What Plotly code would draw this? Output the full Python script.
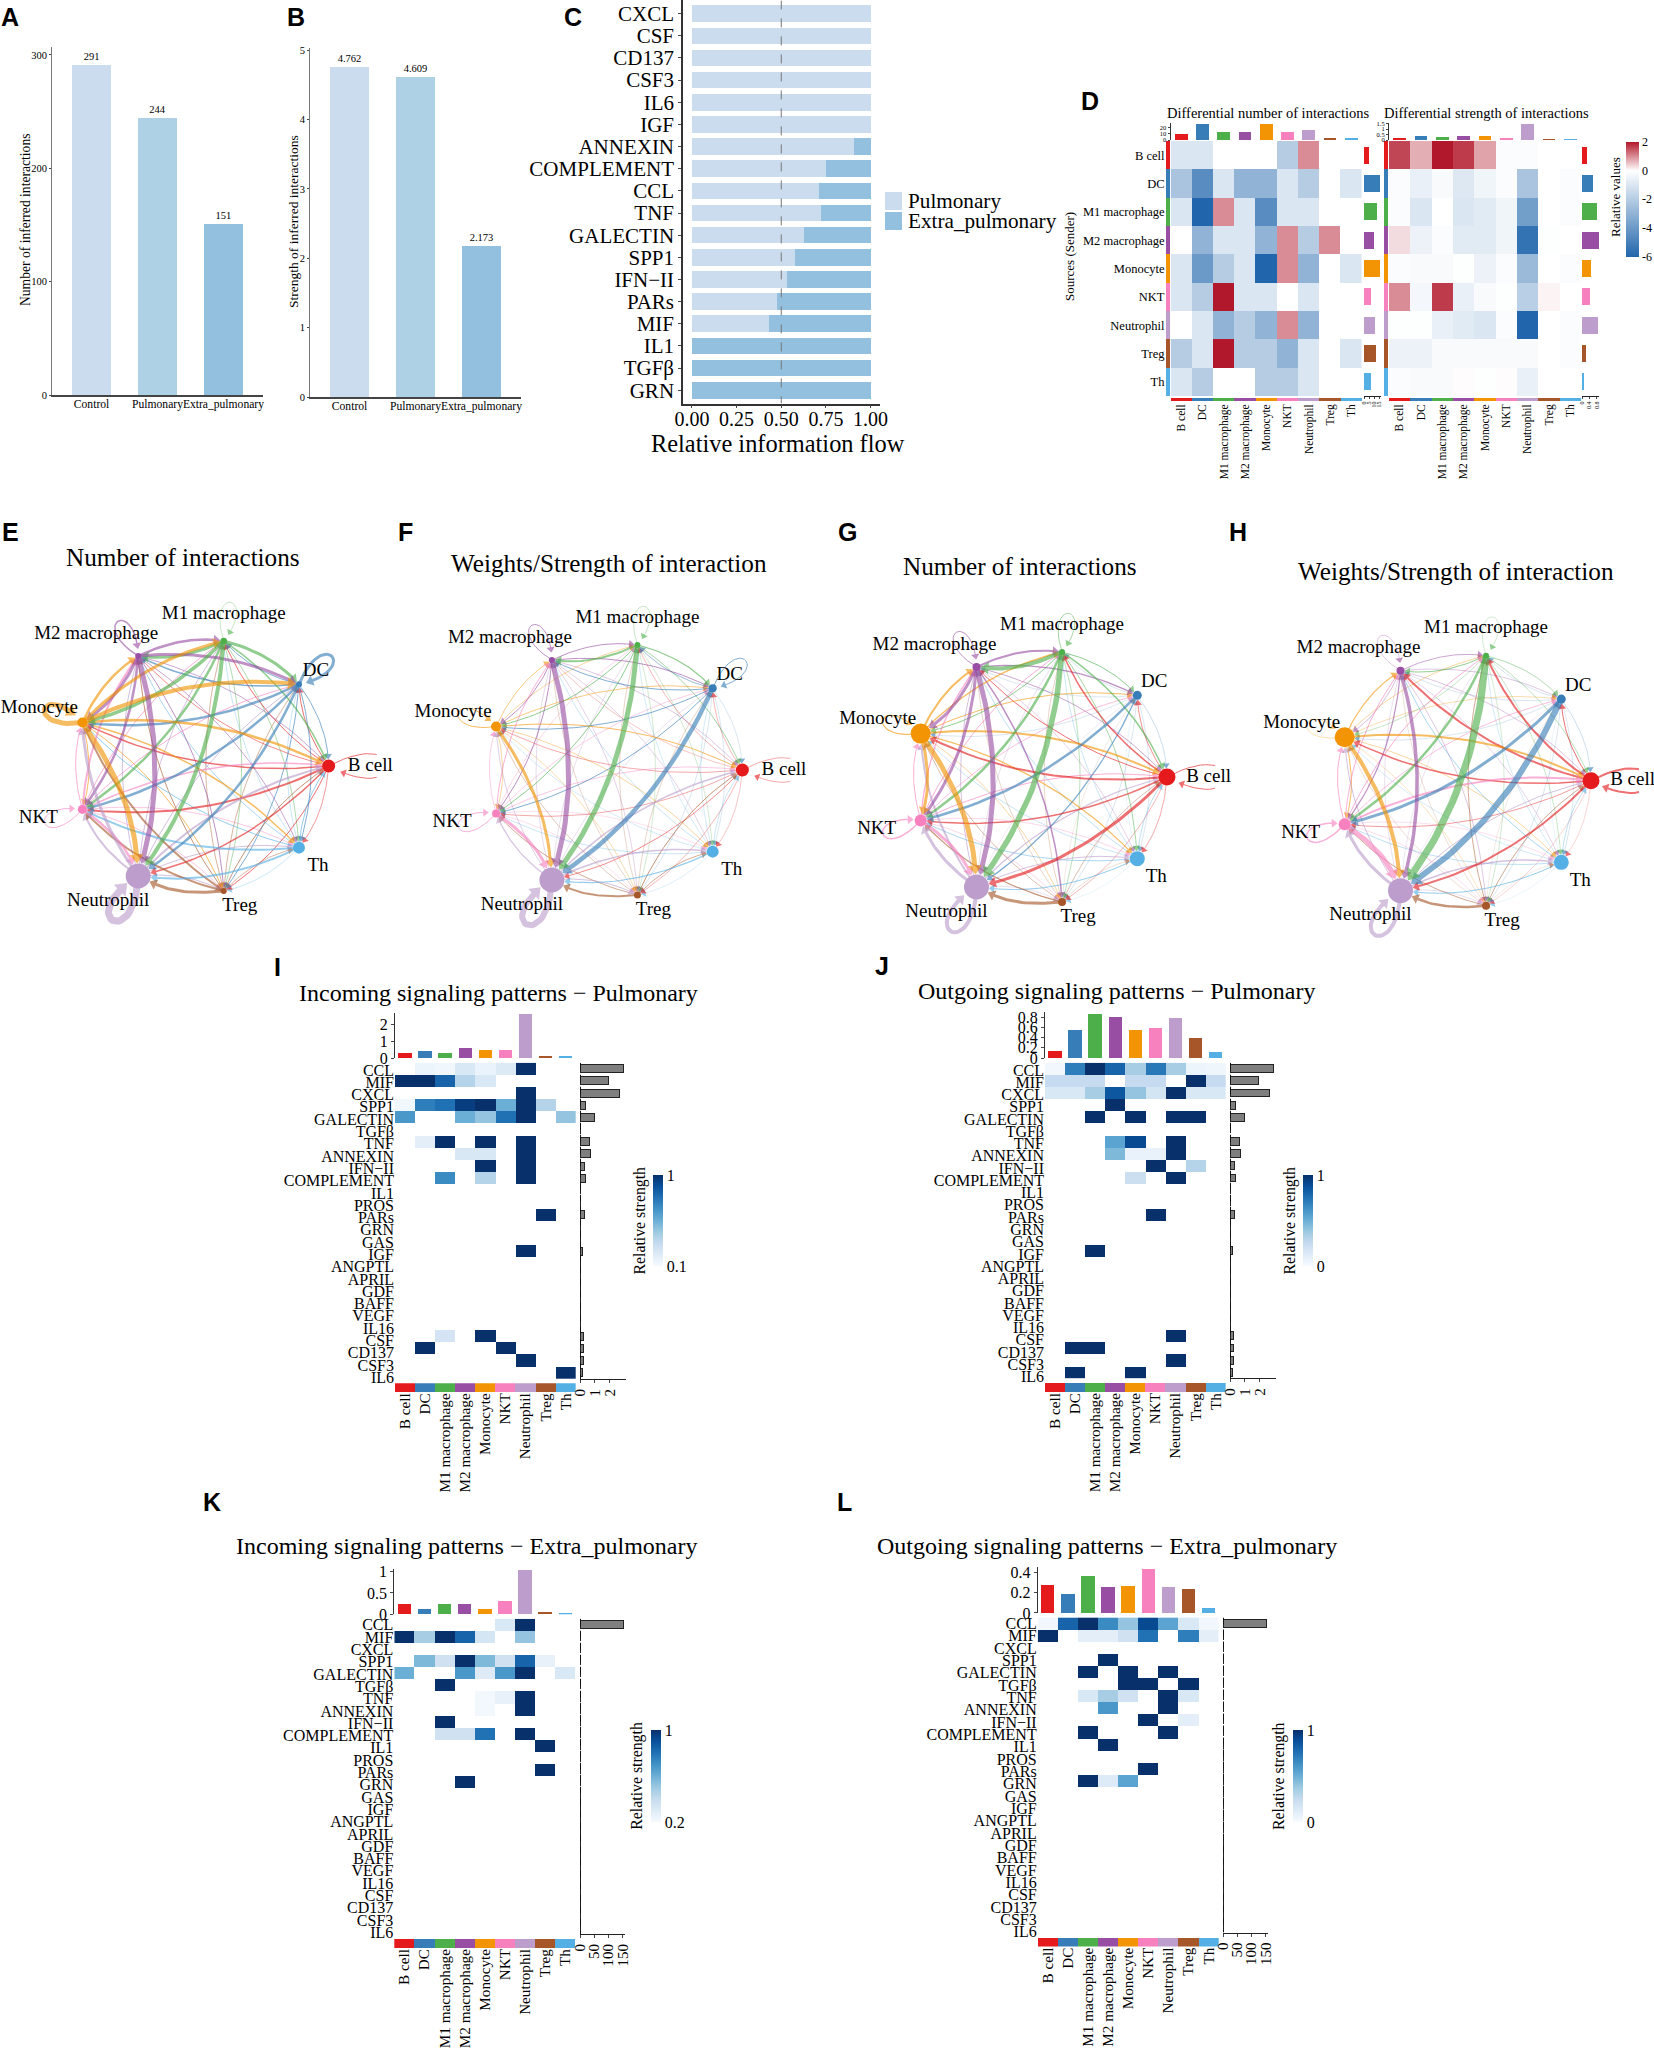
import math
import plotly.graph_objects as go

W, H = 1654, 2055
SERIF = "Liberation Serif"
cells = ["B cell", "DC", "M1 macrophage", "M2 macrophage", "Monocyte", "NKT", "Neutrophil", "Treg", "Th"]
cell_colors = ["#E41A1C", "#377EB8", "#4DAF4A", "#984EA3", "#F29403", "#F781BF", "#BC9DCC", "#A65628", "#54B0E4"]

groups3 = ["Control", "Pulmonary", "Extra_pulmonary"]
group_colors = ["#CADCEE", "#AED1E6", "#93C0DF"]
a_values = [291, 244, 151]
b_values = [4.762, 4.609, 2.173]

c_paths = ["CXCL", "CSF", "CD137", "CSF3", "IL6", "IGF", "ANNEXIN", "COMPLEMENT", "CCL", "TNF", "GALECTIN",
           "SPP1", "IFN−II", "PARs", "MIF", "IL1", "TGFβ", "GRN"]
c_pulmonary = [1, 1, 1, 1, 1, 1, 0.91, 0.75, 0.71, 0.725, 0.625, 0.575, 0.53, 0.475, 0.43, 0, 0, 0]
c_extra = [0, 0, 0, 0, 0, 0, 0.09, 0.25, 0.29, 0.275, 0.375, 0.425, 0.47, 0.525, 0.57, 1, 1, 1]

d_number = [
    [-1, -1, 0, 0, 0, -2, 1, 0, 0],
    [-2.3, -4.5, -1, -3, -3, -1, -2, 0, -1],
    [-1, -6, 1, -1, -4.5, -1, -1, 0, 0],
    [0, -3, -1, -1, -3, 1, -2, 1, 0],
    [-1, -4, -2, -1, -6, 1, -3, 0, -1],
    [-1, -2, 2, -1, -1, 0, -1, 0, 0],
    [0, -1, -3, -2, -3, 1, -3, 0, 0],
    [-2, -1, 2, -2, -2, -3, -1, 0, -1],
    [-1, -2, 0, 0, -2, -2, -1, 0, 0],
]
d_strength = [
    [1.6, 0.7, 2, 1.7, 0.8, -0.1, -0.1, 0, 0],
    [-0.1, -0.6, -0.2, -0.9, -0.4, -0.1, -2.3, 0, -0.1],
    [-0.1, -1, 0, -1, -0.8, -0.4, -3.8, 0, -0.1],
    [0.3, -0.5, -0.1, -0.8, -0.8, -0.4, -5.5, -0.05, 0],
    [-0.1, -0.2, -0.2, -0.05, -0.5, -0.1, -2.7, 0, -0.1],
    [1, -0.3, 1.7, -0.6, -0.2, -0.05, -1.9, 0.1, 0],
    [-0.05, -0.05, -0.6, -0.8, -1, -0.1, -6, 0, -0.1],
    [-0.5, -0.5, -0.2, -0.2, -0.2, -0.2, -0.2, 0, -0.1],
    [-0.1, -0.2, -0.2, 0.03, -0.05, 0.03, -0.6, 0, 0],
]
d_number_top = [10, 27, 14, 13, 27, 14, 17, 2, 4]
d_strength_top = [0.16, 0.32, 0.23, 0.36, 0.32, 0.16, 1.5, 0.06, 0.06]
d_number_right = [4.5, 15.6, 13.4, 10.4, 16, 6.7, 10.8, 11.9, 6.7]
d_strength_right = [0.27, 0.59, 0.82, 0.9, 0.46, 0.44, 0.84, 0.23, 0.13]

# Edge widths (rows = sender, columns = receiver, diagonal = self loop)
e_widths = [
    [1, 1, 1, 0.8, 1.5, 2, 1.5, 1, 0.7],
    [1, 3, 1, 1.5, 2.5, 2.5, 2.5, 1, 1],
    [1.5, 3, 0.5, 3, 3.5, 2.5, 4, 0.7, 0.7],
    [0.8, 3, 2.5, 1.5, 3, 2.5, 5, 1, 0.8],
    [2.5, 4, 3, 2.5, 5, 1, 5, 1, 1.5],
    [1.5, 1, 1, 2, 1, 1, 2.5, 0.7, 0.7],
    [2, 1, 1, 1, 3, 2, 7, 1, 1],
    [1, 0.7, 0.7, 1, 2, 2, 3, 0, 0.7],
    [1, 0.5, 0.5, 0.8, 1, 2, 2, 0.5, 0],
]
f_widths = [
    [0.6, 0.5, 0.5, 0.4, 0.6, 0.6, 0.8, 0.5, 0.4],
    [0.3, 1, 0.8, 1, 1, 1, 4.5, 0.3, 0.3],
    [0.8, 1.2, 0.5, 2, 1, 1, 5, 0.4, 0.4],
    [0.5, 1, 1, 1, 1, 1, 5, 0.4, 0.4],
    [1, 0.8, 0.6, 0.8, 1, 0.6, 3, 0.5, 0.6],
    [0.7, 0.6, 0.5, 1, 0.6, 1, 3, 0.4, 0.4],
    [1.5, 0.5, 0.5, 0.6, 0.8, 1.2, 6, 1, 1.5],
    [1, 0.4, 0.4, 0.4, 0.5, 0.8, 2, 0, 0.8],
    [0.5, 0.4, 0.4, 0.5, 0.4, 0.5, 1.2, 0.3, 0],
]
g_widths = [
    [1, 0.8, 1.5, 1, 2, 1.5, 3, 0.5, 0.6],
    [0.4, 0, 0.3, 0.3, 0.3, 2.5, 1.3, 0.3, 0.3],
    [1.5, 1, 0.8, 4, 1, 2.5, 5.5, 0.6, 0.8],
    [0.8, 1.2, 2, 1, 3, 3, 5, 1.5, 0.4],
    [2, 1, 1.5, 2, 1.2, 3, 5, 0.6, 1.2],
    [1, 0.8, 1, 1.3, 1, 1.5, 3, 0.5, 0.5],
    [1.2, 0.3, 0.5, 1, 2, 3, 4, 0.5, 1],
    [0.6, 0.2, 0.4, 0.4, 0.6, 1.2, 3, 0, 0.3],
    [0.6, 0.2, 0.5, 0.6, 0.5, 0.8, 1, 0.2, 0],
]
h_widths = [
    [2, 1, 2, 2, 1.5, 0.7, 2, 0.3, 0.3],
    [0.4, 0, 0.3, 0.3, 0.3, 3, 6, 0.3, 0.3],
    [0.6, 0.7, 0.4, 1, 0.5, 2.5, 7, 0.4, 0.5],
    [0.5, 0.5, 0.8, 0.5, 0.6, 1.2, 3.5, 0.5, 0.4],
    [2, 0.5, 0.6, 1.2, 0.5, 1, 4, 0.4, 0.6],
    [2, 0.8, 1, 1, 1, 1.5, 5, 0.4, 0.4],
    [1, 0.3, 0.4, 0.5, 1, 3, 4, 0.5, 1.5],
    [0.8, 0.2, 0.8, 0.3, 0.3, 0.8, 2.5, 0, 0.2],
    [0.6, 0.2, 0.4, 0.8, 0.4, 0.6, 1, 0.2, 0],
]
e_sizes = [13, 6, 6.5, 6, 10, 9, 25, 6, 12]
f_sizes = [13, 8, 6, 6, 10, 8, 25, 7, 12]
g_sizes = [17, 9, 6, 8, 20, 12, 25, 8, 15]
h_sizes = [17, 9, 6, 8, 20, 12, 25, 8, 15]

pathways = ["CCL", "MIF", "CXCL", "SPP1", "GALECTIN", "TGFβ", "TNF", "ANNEXIN", "IFN−II", "COMPLEMENT", "IL1", "PROS",
            "PARs", "GRN", "GAS", "IGF", "ANGPTL", "APRIL", "GDF", "BAFF", "VEGF", "IL16", "CSF", "CD137", "CSF3", "IL6"]
N = None
EMPTY = [N] * 9
i_matrix = [
    [N, .145, .13, .235, .16, .22, 1, N, N],
    [1, 1, .82, .37, .235, N, N, N, N],
    [N, N, N, N, N, N, 1, N, N],
    [.13, .73, .78, .955, 1, .55, 1, .37, N],
    [.64, N, N, .55, .46, .78, 1, N, .46],
    EMPTY,
    [N, .19, 1, N, 1, N, 1, N, N],
    [N, N, N, .235, .235, N, 1, N, N],
    [N, N, N, N, 1, N, 1, N, N],
    [N, N, .685, N, .37, N, 1, N, N],
    EMPTY, EMPTY,
    [N, N, N, N, N, N, N, 1, N],
    EMPTY, EMPTY,
    [N, N, N, N, N, N, 1, N, N],
    EMPTY, EMPTY, EMPTY, EMPTY, EMPTY, EMPTY,
    [N, N, .26, N, 1, N, N, N, N],
    [N, 1, N, N, N, 1, N, N, N],
    [N, N, N, N, N, N, 1, N, N],
    [N, N, N, N, N, N, N, N, 1],
]
j_matrix = [
    [.03, .7, 1, .8, .35, .72, .35, .05, .04],
    [.25, .25, .25, N, .25, .25, N, 1, .25],
    [.15, .15, .35, .85, .4, .18, 1, .15, .15],
    [N, N, N, 1, N, N, N, N, N],
    [N, N, 1, N, 1, N, 1, 1, N],
    EMPTY,
    [N, N, N, .55, .9, N, 1, N, N],
    [N, N, N, .45, .07, .07, 1, N, N],
    [N, N, N, N, N, 1, N, .3, N],
    [N, N, N, N, .22, N, 1, N, N],
    EMPTY, EMPTY,
    [N, N, N, N, N, 1, N, N, N],
    EMPTY, EMPTY,
    [N, N, 1, N, N, N, N, N, N],
    EMPTY, EMPTY, EMPTY, EMPTY, EMPTY, EMPTY,
    [N, N, N, N, N, N, 1, N, N],
    [N, 1, 1, N, N, N, N, N, N],
    [N, N, N, N, N, N, 1, N, N],
    [N, 1, N, N, 1, N, N, N, N],
]
k_matrix = [
    [N, N, N, N, N, .32, 1, N, N],
    [1, .48, 1, .84, .34, N, .52, N, N],
    EMPTY,
    [N, .56, .36, 1, .56, .36, .84, .26, N],
    [.6, N, N, .68, .3, .68, 1, N, .32],
    [N, N, 1, N, N, N, N, N, N],
    [N, N, N, N, .22, .26, 1, N, N],
    [N, N, N, N, .22, N, 1, N, N],
    [N, N, 1, N, N, N, N, N, N],
    [N, N, .36, .36, .8, N, 1, N, N],
    [N, N, N, N, N, N, N, 1, N],
    EMPTY,
    [N, N, N, N, N, N, N, 1, N],
    [N, N, N, 1, N, N, N, N, N],
] + [EMPTY] * 12
l_matrix = [
    [.03, .8, 1, .65, .4, .9, .55, .15, .03],
    [1, N, .1, .1, .2, .75, N, .7, .1],
    EMPTY,
    [N, N, N, 1, N, N, N, N, N],
    [N, N, 1, N, 1, N, 1, N, N],
    [N, N, N, N, 1, 1, N, 1, N],
    [N, N, .15, .35, .2, N, 1, .15, N],
    [N, N, N, .6, N, N, 1, N, N],
    [N, N, N, N, N, 1, N, .1, N],
    [N, N, 1, N, N, N, 1, N, N],
    [N, N, N, 1, N, N, N, N, N],
    EMPTY,
    [N, N, N, N, N, 1, N, N, N],
    [N, N, 1, .13, .55, N, N, N, N],
] + [EMPTY] * 12
i_top = [.3, .42, .3, .57, .5, .46, 2.6, .1, .12]
j_top = [.14, .55, .88, .82, .55, .59, .785, .39, .125]
k_top = [.24, .12, .24, .24, .12, .31, 1.03, .06, .04]
l_top = [.277, .19, .36, .253, .26, .435, .253, .236, .048]
pulm_right = [2.9, 1.9, 2.62, .4, .95, 0, .65, .7, .28, .38, 0, 0, .3, 0, 0, .15, 0, 0, 0, 0, 0, 0, .22, .22, .22, .15]
extra_right = [152, 1] + [0] * 24

BLUES = [[0, "#F7FBFF"], [.125, "#DEEBF7"], [.25, "#C6DBEF"], [.375, "#9ECAE1"], [.5, "#6BAED6"],
         [.625, "#4292C6"], [.75, "#2171B5"], [.875, "#08519C"], [1, "#08306B"]]
DIFF = [[0, "#2166AC"], [.75, "#FFFFFF"], [1, "#B2182B"]]

fig = go.Figure()
layout = {}
annotations = []
shapes = []
axis_no = [0]
HIDDEN = dict(showgrid=False, zeroline=False, showticklabels=False, ticks="", showline=False, fixedrange=True)


def new_axes(x0, x1, y0, y1, xkw=None, ykw=None):
    axis_no[0] += 1
    n = axis_no[0]
    xa = dict(HIDDEN, domain=[x0 / W, x1 / W], anchor=f"y{n}")
    ya = dict(HIDDEN, domain=[1 - y1 / H, 1 - y0 / H], anchor=f"x{n}")
    xa.update(xkw or {})
    ya.update(ykw or {})
    layout["xaxis" if n == 1 else f"xaxis{n}"] = xa
    layout["yaxis" if n == 1 else f"yaxis{n}"] = ya
    return f"x{n}", f"y{n}"


def note(x, y, text, size, angle=0, anchor="center", bold=False, family=SERIF):
    annotations.append(dict(x=x / W, y=1 - y / H, xref="paper", yref="paper", text=f"<b>{text}</b>" if bold else text,
                            showarrow=False, textangle=angle, xanchor=anchor, yanchor="middle",
                            font=dict(size=size, family=family, color="black")))


for letter, lx, ly in [("A", 10, 17), ("B", 296, 17), ("C", 573, 17), ("D", 1090, 101), ("E", 10.6, 532), ("F", 405, 532),
                       ("G", 847, 532), ("H", 1238, 532), ("I", 277, 967), ("J", 882, 966), ("K", 212, 1502), ("L", 844, 1502)]:
    note(lx, ly, letter, 25, bold=True, family="Liberation Sans")


def bar_panel(x0, x1, ytop, ybase, vals, ymax, ticks, texts):
    xkw = dict(range=[-0.6, 2.6], showline=True, linecolor="#444", linewidth=1.5, showticklabels=True,
               tickmode="array", tickvals=[0, 1, 2], ticktext=groups3, tickangle=0, ticklabelstandoff=-3,
               tickfont=dict(size=11.6, family=SERIF))
    ykw = dict(range=[0, ymax], showline=True, linecolor="#777", linewidth=1, showticklabels=True, ticks="outside",
               ticklen=2, tickmode="array", tickvals=ticks, tickfont=dict(size=10.5, family=SERIF))
    xa, ya = new_axes(x0, x1, ytop, ybase, xkw, ykw)
    fig.add_trace(go.Bar(x=[0, 1, 2], y=vals, width=0.6, marker=dict(color=group_colors, line=dict(width=0)),
                         text=texts, textposition="outside", cliponaxis=False, textangle=0,
                         textfont=dict(size=10.5, family=SERIF), xaxis=xa, yaxis=ya, showlegend=False))


bar_panel(52, 263, 47, 395, a_values, 307, [0, 100, 200, 300], [str(v) for v in a_values])
bar_panel(310, 521, 48, 397, b_values, 5.03, [0, 1, 2, 3, 4, 5], [f"{v:.3f}" for v in b_values])
note(26, 220, "Number of inferred interactions", 13.6, -90)
note(293, 222, "Strength of inferred interactions", 13.5, -90)

# Panel C
xa, ya = new_axes(683, 879.5, 0.4, 403.5,
                  dict(range=[-0.05, 1.05], showline=True, linecolor="#333", linewidth=1.5, showticklabels=True,
                       ticks="outside", ticklen=3, tickmode="array", tickvals=[0, .25, .5, .75, 1],
                       ticktext=["0.00", "0.25", "0.50", "0.75", "1.00"], tickangle=0, ticklabelstandoff=-6,
                       tickfont=dict(size=20, family=SERIF)),
                  dict(range=[17.6, -0.6], showline=True, linecolor="#333", linewidth=1.5, showticklabels=True,
                       ticks="outside", ticklen=3, tickmode="array", tickvals=list(range(18)), ticktext=c_paths,
                       tickfont=dict(size=21, family=SERIF)))
ypos = list(range(18))
fig.add_trace(go.Bar(y=ypos, x=c_pulmonary, orientation="h", width=0.75, marker=dict(color=group_colors[0], line=dict(width=0)),
                     xaxis=xa, yaxis=ya, name="Pulmonary", showlegend=False))
fig.add_trace(go.Bar(y=ypos, x=c_extra, orientation="h", width=0.75, marker=dict(color=group_colors[2], line=dict(width=0)),
                     xaxis=xa, yaxis=ya, name="Extra_pulmonary", showlegend=False))
fig.add_trace(go.Scatter(x=[0.5, 0.5], y=[-0.6, 17.6], mode="lines", line=dict(color="#777", width=1, dash="dash"),
                         xaxis=xa, yaxis=ya, showlegend=False))
note(778, 443, "Relative information flow", 24.4)
for label, col, sy0, sy1 in [("Pulmonary", group_colors[0], 192, 210), ("Extra_pulmonary", group_colors[2], 212, 230)]:
    shapes.append(dict(type="rect", xref="paper", yref="paper", x0=885 / W, x1=902 / W, y0=1 - sy1 / H, y1=1 - sy0 / H,
                       fillcolor=col, line=dict(width=0)))
    note(905.5, (sy0 + sy1) / 2, label, 21.2, anchor="left")


def strip_x(x0, x1, y0, y1, size, standoff=0):
    xa, ya = new_axes(x0, x1, y0, y1,
                      dict(range=[-.5, 8.5], showticklabels=True, tickmode="array", tickvals=list(range(9)), ticktext=cells,
                           tickangle=-90, ticklabelstandoff=standoff, tickfont=dict(size=size, family=SERIF)),
                      dict(range=[0, 1]))
    fig.add_trace(go.Bar(x=list(range(9)), y=[1] * 9, width=1, marker=dict(color=cell_colors, line=dict(width=0)),
                         xaxis=xa, yaxis=ya, showlegend=False))


def strip_y(x0, x1, y0, y1, size, labels):
    ykw = dict(range=[8.5, -.5])
    if labels:
        ykw.update(showticklabels=True, tickmode="array", tickvals=list(range(9)), ticktext=cells,
                   tickfont=dict(size=size, family=SERIF))
    xa, ya = new_axes(x0, x1, y0, y1, dict(range=[0, 1]), ykw)
    fig.add_trace(go.Bar(y=list(range(9)), x=[1] * 9, orientation="h", width=1, marker=dict(color=cell_colors, line=dict(width=0)),
                         xaxis=xa, yaxis=ya, showlegend=False))


def top_bars(x0, x1, y0, y1, vals, vmax, ticks, ticktext, size, width, line=True):
    ykw = dict(range=[0, vmax], showticklabels=True, ticks="outside", ticklen=3 if line else 2, tickmode="array", tickvals=ticks,
               ticktext=ticktext, tickfont=dict(size=size, family=SERIF), showline=True, linecolor="#333", linewidth=1)
    xa, ya = new_axes(x0, x1, y0, y1, dict(range=[-.5, 8.5]), ykw)
    fig.add_trace(go.Bar(x=list(range(9)), y=vals, width=width, marker=dict(color=cell_colors, line=dict(width=0)),
                         xaxis=xa, yaxis=ya, showlegend=False))


# Panel D
def d_heat(x0, x1, z, show):
    xa, ya = new_axes(x0, x1, 141, 396, dict(range=[-.5, 8.5]), dict(range=[8.5, -.5]))
    cb = dict(x=1626 / W, xanchor="left", y=1 - 141.7 / H, yanchor="top", len=114.5, lenmode="pixels", thickness=13,
              thicknessmode="pixels", outlinewidth=0, tickmode="array", tickvals=[2, 0, -2, -4, -6],
              ticktext=["2", "0", "-2", "-4", "-6"], ticks="", xpad=0, ypad=0, tickfont=dict(size=12, family=SERIF))
    fig.add_trace(go.Heatmap(z=z, x=list(range(9)), y=list(range(9)), zmin=-6, zmax=2, colorscale=DIFF, showscale=show,
                             colorbar=cb if show else None, xaxis=xa, yaxis=ya))


d_heat(1170.6, 1362, d_number, False)
d_heat(1389, 1581, d_strength, True)
strip_y(1165.5, 1170, 141, 396, 12.5, True)
strip_y(1384, 1388, 141, 396, 12.5, False)
strip_x(1170.6, 1362, 397.5, 401, 11.5)
strip_x(1389, 1581, 397.5, 401, 11.5)
top_bars(1170.6, 1362, 123, 140, d_number_top, 28, [0, 10, 20], ["0", "10", "20"], 6.5, 0.6, False)
top_bars(1389, 1581, 123, 140, d_strength_top, 1.55, [0, .5, 1, 1.5], ["0", "0.5", "1", "1.5"], 6.5, 0.6, False)


def right_axes(x0, x1, y0, y1, vmax, ticks, ticktext, size, rows, line=True):
    xkw = dict(range=[0, vmax], showticklabels=True, ticks="outside", ticklen=3 if line else 2, tickmode="array", tickvals=ticks,
               ticktext=ticktext, tickangle=-90, tickfont=dict(size=size, family=SERIF), showline=True, linecolor="#222", linewidth=1)
    return new_axes(x0, x1, y0, y1, xkw, dict(range=[rows - .5, -.5]))


for x0r, x1r, vals, vmax, tk, tt in [(1364, 1381, d_number_right, 17, [0, 5, 10, 15], ["0", "5", "10", "15"]),
                                     (1582, 1599, d_strength_right, .92, [0, .4, .8], ["0", "0.4", "0.8"])]:
    xa, ya = right_axes(x0r, x1r, 141, 396, vmax, tk, tt, 6, 9, False)
    fig.add_trace(go.Bar(y=list(range(9)), x=vals, orientation="h", width=.6, marker=dict(color=cell_colors, line=dict(width=0)),
                         xaxis=xa, yaxis=ya, showlegend=False))
note(1268, 113, "Differential number of interactions", 14.5)
note(1486.6, 113, "Differential strength of interactions", 14.5)
note(1069, 257, "Sources (Sender)", 13, -90)
note(1616, 197, "Relative values", 13, -90)

# Panels E-H
R = 127.0
EXT = 175.0
angles = [0, 40, 80, 120, 160, 200, 240, 280, 320]
label_dx = [41.6, 17, 0, -42, -43, -44, -30, 16, 19]
label_dy = [0, -13, -27, -22, -14, 9, 25, 15, 19]
loop_reach = [60, 43, 39, 40, 40, 40, 51, 30, 30]


def network(cx, cy, widths, sizes, title, tx, ty):
    rng = [-EXT / R, EXT / R]
    xa, ya = new_axes(cx - EXT, cx + EXT, cy - EXT, cy + EXT, dict(range=rng), dict(range=rng))
    nx = [math.cos(math.radians(a)) for a in angles]
    ny = [math.sin(math.radians(a)) for a in angles]
    order = sorted(((widths[i][j], i, j) for i in range(9) for j in range(9)))
    for w, i, j in order:
        if w <= 0:
            continue
        arrow = 6 + 1.2 * w
        if i == j:
            th = math.radians(angles[i])
            d = loop_reach[i] / 0.66 / R
            t1, t2 = th + math.radians(28), th - math.radians(28)
            p1 = (nx[i] + d * math.cos(t1), ny[i] + d * math.sin(t1))
            p2 = (nx[i] + d * math.cos(t2), ny[i] + d * math.sin(t2))
            xs, ys = [], []
            for k in range(31):
                t = k / 30
                a, b, c, e = (1 - t) ** 3, 3 * t * (1 - t) ** 2, 3 * t * t * (1 - t), t ** 3
                xs.append((a + e) * nx[i] + b * p1[0] + c * p2[0])
                ys.append((a + e) * ny[i] + b * p1[1] + c * p2[1])
            cut = 0
            while cut < 29 and math.hypot(xs[-1 - cut] - nx[i], ys[-1 - cut] - ny[i]) * R < sizes[i] / 2 + arrow / 2:
                cut += 1
            xs, ys = xs[:31 - cut], ys[:31 - cut]
        else:
            dx, dy = nx[j] - nx[i], ny[j] - ny[i]
            cxp, cyp = (nx[i] + nx[j]) / 2 - dy * 0.14, (ny[i] + ny[j]) / 2 + dx * 0.14
            gap = (sizes[j] / 2 + arrow / 2) / R
            vx, vy = nx[j] - cxp, ny[j] - cyp
            vl = math.hypot(vx, vy)
            ex, ey = nx[j] - vx / vl * gap, ny[j] - vy / vl * gap
            xs, ys = [], []
            for k in range(25):
                t = k / 24
                xs.append((1 - t) ** 2 * nx[i] + 2 * t * (1 - t) * cxp + t * t * ex)
                ys.append((1 - t) ** 2 * ny[i] + 2 * t * (1 - t) * cyp + t * t * ey)
        heading = math.degrees(math.atan2(xs[-1] - xs[-2], ys[-1] - ys[-2]))
        msize = [0] * (len(xs) - 1) + [arrow]
        mangle = [0] * (len(xs) - 1) + [heading]
        fig.add_trace(go.Scatter(x=xs, y=ys, mode="lines+markers", opacity=0.62,
                                 line=dict(color=cell_colors[i], width=w),
                                 marker=dict(symbol="triangle-up", size=msize, angle=mangle, opacity=1, color=cell_colors[i], line=dict(width=0)),
                                 xaxis=xa, yaxis=ya, showlegend=False, hoverinfo="skip", cliponaxis=False))
    fig.add_trace(go.Scatter(x=nx, y=ny, mode="markers", marker=dict(size=sizes, color=cell_colors, opacity=1, line=dict(width=0)),
                             xaxis=xa, yaxis=ya, showlegend=False, cliponaxis=False))
    fig.add_trace(go.Scatter(x=[nx[i] + label_dx[i] / R for i in range(9)], y=[ny[i] - label_dy[i] / R for i in range(9)],
                             mode="text", text=cells, textposition="middle center", textfont=dict(size=19, family=SERIF, color="black"),
                             xaxis=xa, yaxis=ya, showlegend=False, cliponaxis=False))
    note(tx, ty, title, 25.2)


network(201.7, 766, e_widths, e_sizes, "Number of interactions", 182.6, 558)
network(615.4, 770, f_widths, f_sizes, "Weights/Strength of interaction", 608.8, 563)
network(1040, 777, g_widths, g_sizes, "Number of interactions", 1019.5, 567)
network(1464, 780.7, h_widths, h_sizes, "Weights/Strength of interaction", 1455.6, 571)


# Panels I-L
def signal(x0, x1, y0, y1, sy0, sy1, matrix, zmin, zticks, tops, tbase, ttop, tmax, tticks, ttext,
           rvals, rx0, rx1, rmax, rticks, cbx, cby0, cby1, title, tcx, tcy, titlex, lab_off, lab_fac):
    xa, ya = new_axes(x0, x1, y0, y1, dict(range=[-.5, 8.5]),
                      dict(range=[25.5, -.5], showticklabels=True, tickmode="array",
                           tickvals=[lab_off + i * lab_fac for i in range(26)], ticktext=pathways,
                           tickfont=dict(size=16, family=SERIF)))
    cb = dict(x=cbx / W, xanchor="left", y=1 - cby0 / H, yanchor="top", len=cby1 - cby0, lenmode="pixels", thickness=10,
              thicknessmode="pixels", outlinewidth=0, tickmode="array", tickvals=zticks, ticks="", xpad=0, ypad=0,
              tickfont=dict(size=16, family=SERIF))
    fig.add_trace(go.Heatmap(z=matrix, x=list(range(9)), y=list(range(26)), zmin=zmin, zmax=1, colorscale=BLUES, colorbar=cb,
                             hoverongaps=False, xaxis=xa, yaxis=ya))
    strip_x(x0, x1, sy0, sy1, 15.2, -3)
    top_bars(x0, x1, ttop, tbase, tops, tmax, tticks, ttext, 16, 0.67)
    xa, ya = right_axes(rx0, rx1, y0, y1, rmax, rticks, [str(t) for t in rticks], 15, 26)
    fig.add_trace(go.Bar(y=list(range(26)), x=rvals, orientation="h", width=.65,
                         marker=dict(color="#7F7F7F", line=dict(color="#222", width=1)), xaxis=xa, yaxis=ya, showlegend=False))
    fig.add_trace(go.Scatter(x=[0, 0], y=[-.5, 25.5], mode="lines", line=dict(color="#111", width=2, dash="7px,5px"),
                             xaxis=xa, yaxis=ya, showlegend=False, cliponaxis=False))
    note(titlex, (cby0 + cby1) / 2, "Relative strength", 15.8, -90)
    note(tcx, tcy, title, 24)


signal(395, 575.7, 1062.7, 1379, 1383.3, 1392.3, i_matrix, .1, [1, .1], i_top, 1058, 1013, 2.68, [0, 1, 2], ["0", "1", "2"],
       pulm_right, 580, 625.7, 3.05, [0, 1, 2], 653, 1175, 1266, "Incoming signaling patterns − Pulmonary", 498, 993, 639, .1, 1.0104)
signal(1045, 1225.7, 1062.7, 1378.3, 1383, 1392, j_matrix, 0, [1, 0], j_top, 1058, 1012, .91, [0, .2, .4, .6, .8],
       ["0", "0.2", "0.4", "0.6", "0.8"], pulm_right, 1230, 1275.7, 3.05, [0, 1, 2], 1303, 1175, 1266,
       "Outgoing signaling patterns − Pulmonary", 1116.7, 991, 1289, .1, 1.0104)
signal(394.3, 575.3, 1618.8, 1934, 1939, 1948, k_matrix, .2, [1, .2], k_top, 1614.3, 1569, 1.06, [0, .5, 1], ["0", "0.5", "1"],
       extra_right, 580, 625, 158, [0, 50, 100, 150], 650.7, 1730, 1822, "Incoming signaling patterns − Extra_pulmonary", 466.7, 1546, 636.7, 0, 1.0143)
signal(1037.7, 1218.7, 1617.4, 1932.5, 1938, 1946.6, l_matrix, 0, [1, 0], l_top, 1612.9, 1567.4, .447, [0, .2, .4], ["0", "0.2", "0.4"],
       extra_right, 1223, 1268, 158, [0, 50, 100, 150], 1293.3, 1730, 1822, "Outgoing signaling patterns − Extra_pulmonary", 1107, 1546, 1279, 0, 1.018)

fig.update_layout(**layout)
fig.update_layout(width=W, height=H, margin=dict(l=0, r=0, t=0, b=0, autoexpand=False), barmode="stack",
                  paper_bgcolor="white", plot_bgcolor="rgba(0,0,0,0)", showlegend=False,
                  font=dict(family=SERIF, color="black"), annotations=annotations, shapes=shapes)
fig.write_html("out.html", post_script="document.body.style.margin='0';", config={"displayModeBar": False})
